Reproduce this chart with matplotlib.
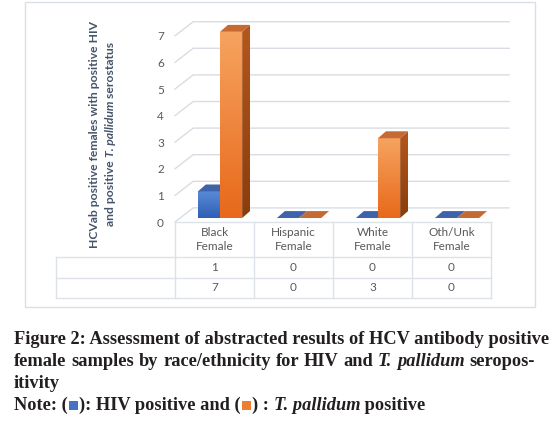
import matplotlib.pyplot as plt
import numpy as np
from matplotlib.patches import Polygon, Rectangle
from matplotlib.colors import LinearSegmentedColormap

# data
categories = ["Black\nFemale", "Hispanic\nFemale", "White\nFemale", "Oth/Unk\nFemale"]
hiv_pos = [1, 0, 0, 0]
tp_pos = [7, 0, 3, 0]
y_ticks = [0, 1, 2, 3, 4, 5, 6, 7]

plt.rcParams["font.family"] = ["Lato", "DejaVu Sans"]

W, H = 555, 423
fig = plt.figure(figsize=(W / 100, H / 100), dpi=100)


def fx(px):
    return px / W


def fy(py):
    return 1 - py / H


# rahmen um das diagramm
fig.patches.append(Rectangle((fx(25), fy(307)), fx(535) - fx(25), fy(2) - fy(307),
                             transform=fig.transFigure, fill=False, ec="#dadfe6", lw=1))

ax = fig.add_axes([fx(175), fy(222), fx(515) - fx(175), fy(15) - fy(222)])
px_x = 79.0    # pixel pro kategorie
px_y = 26.6    # pixel pro einheit
xmax = 340 / px_x
ymax = 207 / px_y

# tiefe des bodens und der balken (daten-einheiten)
fdx, fdy = 0.23, 0.53
bdx, bdy = 0.10, 0.26
base = 0.15
bw = 0.28

grid_c = "#d9dde3"
for v in y_ticks:
    ax.plot([0, fdx, len(categories) + fdx], [v, v + fdy, v + fdy],
            color=grid_c, lw=1, zorder=1, clip_on=False)


def face(verts, c_top, c_bot, z):
    poly = Polygon(verts, closed=True, fc="none", ec="none", zorder=z)
    ax.add_patch(poly)
    xs = [p[0] for p in verts]
    ys = [p[1] for p in verts]
    cmap = LinearSegmentedColormap.from_list("g", [c_bot, c_top])
    grad = np.linspace(0, 1, 64).reshape(-1, 1)
    im = ax.imshow(grad, extent=(min(xs), max(xs), min(ys), max(ys)), origin="lower",
                   cmap=cmap, aspect="auto", zorder=z, interpolation="bilinear")
    im.set_clip_path(poly)


styles = [
    # front oben, front unten, seite oben, seite unten, deckel
    ("#5a8ad6", "#2f5fb5", "#3a5ea8", "#2a4a8c", "#3f63aa"),
    ("#f6a35f", "#e8691b", "#b4571c", "#8a3d0c", "#c56a32"),
]

z = 3
for i in range(len(categories)):
    center = i + 0.5 + 0.07
    for s, vals in enumerate([hiv_pos, tp_pos]):
        v = vals[i]
        x0 = center - bw + s * bw
        ft, fb, st, sb, tc = styles[s]
        if v > 0:
            face([(x0, base), (x0 + bw, base), (x0 + bw, base + v), (x0, base + v)], ft, fb, z)
            face([(x0 + bw, base), (x0 + bw + bdx, base + bdy), (x0 + bw + bdx, base + v + bdy),
                  (x0 + bw, base + v)], st, sb, z)
        top = Polygon([(x0, base + v), (x0 + bdx, base + v + bdy), (x0 + bw + bdx, base + v + bdy),
                       (x0 + bw, base + v)], closed=True, fc=tc, ec="none", zorder=z)
        ax.add_patch(top)
        z += 1

ax.set_xlim(0, xmax)
ax.set_ylim(0, ymax)
ax.set_yticks(y_ticks)
ax.set_xticks([])
ax.tick_params(axis="y", length=0, pad=8, labelsize=8.5, labelcolor="#595959")
for sp in ax.spines.values():
    sp.set_visible(False)

# datentabelle (von hand, in daten-koordinaten)
tab_c = "#dde2e9"
xl = -(175 - 56) / px_x
n = len(categories)
r0, r1, r2, r3 = 0, -35 / px_y, -55.5 / px_y, -76 / px_y
ax.plot([0, n], [r0, r0], color=tab_c, lw=1, clip_on=False, zorder=2)
for yy in (r1, r2, r3):
    ax.plot([xl, n], [yy, yy], color=tab_c, lw=1, clip_on=False, zorder=2)
ax.plot([xl, xl], [r1, r3], color=tab_c, lw=1, clip_on=False, zorder=2)
for k in range(n + 1):
    ax.plot([k, k], [r0, r3], color=tab_c, lw=1, clip_on=False, zorder=2)
tk = dict(ha="center", va="center", fontsize=8.5, color="#595959", clip_on=False)
for k, cat in enumerate(categories):
    ax.text(k + 0.5, (r0 + r1) / 2, cat, linespacing=1.35, **tk)
    ax.text(k + 0.5, (r1 + r2) / 2, str(hiv_pos[k]), **tk)
    ax.text(k + 0.5, (r2 + r3) / 2, str(tp_pos[k]), **tk)

renderer = fig.canvas.get_renderer()
ylab = dict(rotation=90, ha="center", va="bottom", fontsize=8.7, fontweight="bold", color="#44546a")
fig.text(fx(95), fy(134), "HCVab positive females with positive HIV",
         **{**ylab, "va": "center"})
# zweite zeile mit kursivem teil
lab2 = [("and positive ", "normal"), ("T. pallidum", "italic"), (" serostatus", "normal")]
parts = [fig.text(fx(110), 0, s, style=st, **ylab) for s, st in lab2]
heights = [p.get_window_extent(renderer).height for p in parts]
ypos = H * fy(134) - sum(heights) / 2
for p, h in zip(parts, heights):
    p.set_y(ypos / H)
    ypos += h

# bildunterschrift
cap = dict(family="Liberation Serif", weight="bold", size=13.2, color="#231f20")


def runs(x_px, y_px, items):
    x = x_px
    for item in items:
        if item[0] == "box":
            size = 9.5
            fig.patches.append(Rectangle((fx(x + 1), fy(y_px)), size / W, size / H,
                                         transform=fig.transFigure, fc=item[1], ec="none"))
            x += size + 2
            continue
        s, st = item
        t = fig.text(fx(x), fy(y_px), s, va="baseline", style=st, **cap)
        x += t.get_window_extent(renderer).width


def justified(x0_px, x1_px, y_px, words):
    texts = [fig.text(0, fy(y_px), w, va="baseline", style=st, **cap) for w, st in words]
    widths = [t.get_window_extent(renderer).width for t in texts]
    gap = (x1_px - x0_px - sum(widths)) / (len(words) - 1)
    x = x0_px
    for t, w in zip(texts, widths):
        t.set_x(fx(x))
        x += w + gap


runs(14, 344, [("Figure 2: Assessment of abstracted results of HCV antibody positive", "normal")])
line2 = [(w, "normal") for w in "female samples by race/ethnicity for HIV and".split()]
line2 += [("T.", "italic"), ("pallidum", "italic"), ("seropos-", "normal")]
justified(14, 535, 366, line2)
runs(14, 388, [("itivity", "normal")])
runs(14, 410, [("Note: (", "normal"), ("box", "#4472c4"), ("): HIV positive and (", "normal"),
               ("box", "#ed7d31"), (") : ", "normal"), ("T. pallidum", "italic"),
               (" positive", "normal")])

fig.savefig("out.png", dpi=100)
